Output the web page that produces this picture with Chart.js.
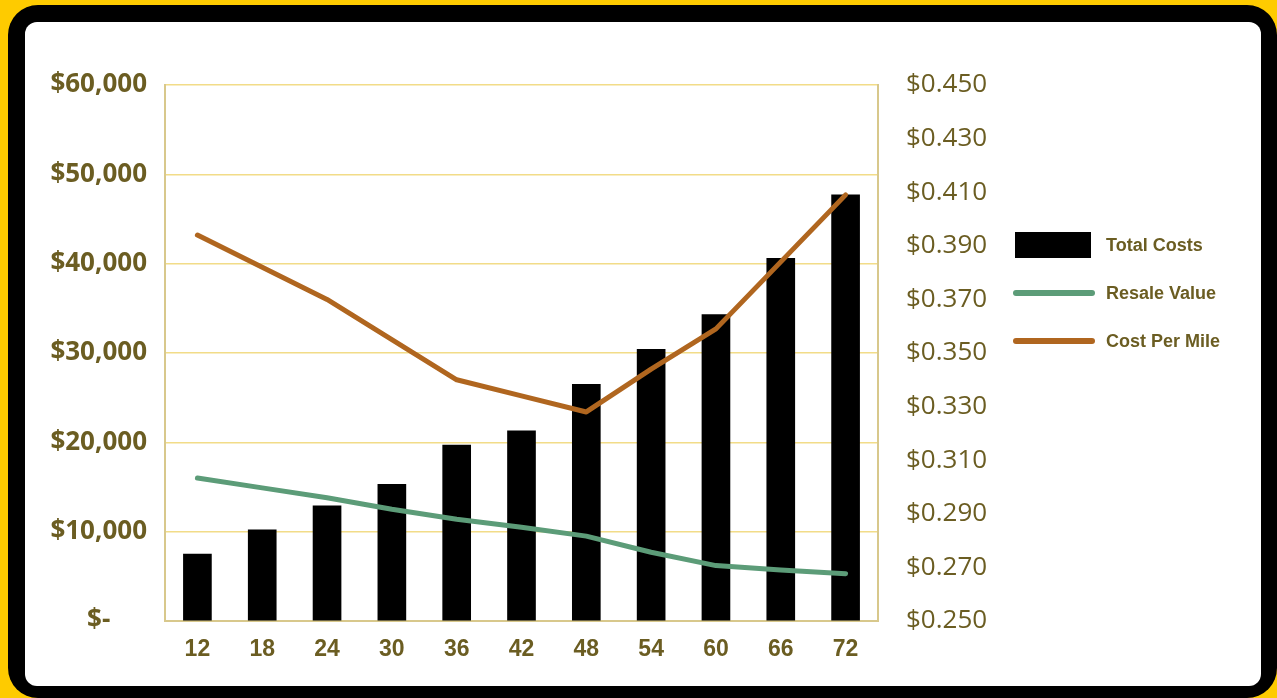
<!DOCTYPE html>
<html>
<head>
<meta charset="utf-8">
<script src="https://cdn.jsdelivr.net/npm/chart.js@4.4.1/dist/chart.umd.min.js"></script>
<style>
  html, body { margin: 0; padding: 0; width: 1277px; height: 698px; overflow: hidden; background: #fecb00; }
  #frame { position: absolute; left: 8px; top: 5px; width: 1269px; height: 693px; background: #000; border-radius: 30px; }
  #card { position: absolute; left: 25px; top: 22px; width: 1236px; height: 664px; background: #fff; border-radius: 12px; }
  #wrap { position: absolute; left: 0; top: 0; width: 1277px; height: 698px; }
</style>
</head>
<body>
<div id="frame"></div>
<div id="card"></div>
<div id="wrap"><canvas id="chart"></canvas></div>
<script>
// months of ownership
var months = ['12', '18', '24', '30', '36', '42', '48', '54', '60', '66', '72'];
var totalCosts = [7500, 10200, 12900, 15300, 19700, 21300, 26500, 30400, 34300, 40600, 47700];
var resaleValue = [16000, 14900, 13800, 12500, 11400, 10500, 9500, 7700, 6200, 5700, 5300];
var costPerMile = [0.394, 0.382, 0.370, 0.355, 0.340, 0.334, 0.328, 0.344, 0.359, 0.384, 0.409];

var dollarTicks = [0, 10000, 20000, 30000, 40000, 50000, 60000];
var mileTicks = [0.25, 0.27, 0.29, 0.31, 0.33, 0.35, 0.37, 0.39, 0.41, 0.43, 0.45];

var textColor = '#6b5d22';
var gridColor = '#f2dc88';
var edgeColor = '#d8c88c';

// legend drawn beside the plot, like the spreadsheet one
var sideLegend = {
  id: 'sideLegend',
  afterDraw: function (chart) {
    var ctx = chart.ctx;
    var x = 1015, y = 245;
    ctx.save();
    chart.data.datasets.forEach(function (ds) {
      if (ds.type === 'bar') {
        ctx.fillStyle = ds.backgroundColor;
        ctx.fillRect(x, y - 13, 76, 26);
      } else {
        ctx.strokeStyle = ds.borderColor;
        ctx.lineWidth = 6;
        ctx.lineCap = 'round';
        ctx.beginPath();
        ctx.moveTo(x + 1, y);
        ctx.lineTo(x + 77, y);
        ctx.stroke();
      }
      ctx.fillStyle = textColor;
      ctx.font = 'bold 18px "Liberation Sans", Arial, sans-serif';
      ctx.textBaseline = 'middle';
      ctx.textAlign = 'left';
      ctx.fillText(ds.label, 1106, y + 1);
      y += 48;
    });
    ctx.restore();
  }
};

var ctx = document.getElementById('chart').getContext('2d');
new Chart(ctx, {
  data: {
    labels: months,
    datasets: [{
      type: 'bar',
      label: 'Total Costs',
      data: totalCosts,
      backgroundColor: '#000000',
      barThickness: 28,
      yAxisID: 'y',
      order: 3
    }, {
      type: 'line',
      label: 'Resale Value',
      data: resaleValue,
      borderColor: '#5c9c78',
      borderWidth: 5,
      pointRadius: 0,
      tension: 0,
      borderCapStyle: 'round',
      borderJoinStyle: 'round',
      yAxisID: 'y',
      order: 2
    }, {
      type: 'line',
      label: 'Cost Per Mile',
      data: costPerMile,
      borderColor: '#b0661f',
      borderWidth: 5,
      pointRadius: 0,
      tension: 0,
      borderCapStyle: 'round',
      borderJoinStyle: 'round',
      yAxisID: 'y1',
      order: 1
    }]
  },
  options: {
    responsive: true,
    maintainAspectRatio: false,
    animation: false,
    layout: { padding: { top: 85, left: 0, right: 0, bottom: 0 } },
    plugins: {
      legend: { display: false },
      tooltip: { enabled: false }
    },
    scales: {
      x: {
        grid: { display: false, drawTicks: false },
        border: { color: edgeColor, width: 2 },
        ticks: {
          color: textColor,
          padding: 15,
          font: { family: '"Liberation Sans", Arial, sans-serif', weight: 'bold', size: 23 }
        },
        afterFit: function (s) { s.height = 77; }
      },
      y: {
        position: 'left',
        min: 0,
        max: 60000,
        grid: { color: gridColor, lineWidth: 1.5, drawTicks: false },
        border: { color: edgeColor, width: 2 },
        ticks: {
          color: textColor,
          crossAlign: 'center',
          padding: 18,
          font: { family: '"Open Sans", sans-serif', weight: 'bold', size: 26 },
          callback: function (v) { return v === 0 ? '$-' : '$' + v.toLocaleString('en-US'); }
        },
        afterBuildTicks: function (s) { s.ticks = dollarTicks.map(function (v) { return { value: v }; }); },
        afterFit: function (s) { s.width = 165; }
      },
      y1: {
        position: 'right',
        min: 0.25,
        max: 0.45,
        grid: { display: false, drawTicks: false },
        border: { color: edgeColor, width: 2 },
        ticks: {
          color: textColor,
          padding: 28,
          font: { family: '"Open Sans", sans-serif', weight: 'normal', size: 26 },
          callback: function (v) { return '$' + v.toFixed(3); }
        },
        afterBuildTicks: function (s) { s.ticks = mileTicks.map(function (v) { return { value: v }; }); },
        afterFit: function (s) { s.width = 399; }
      }
    }
  },
  plugins: [sideLegend]
});
</script>
</body>
</html>
